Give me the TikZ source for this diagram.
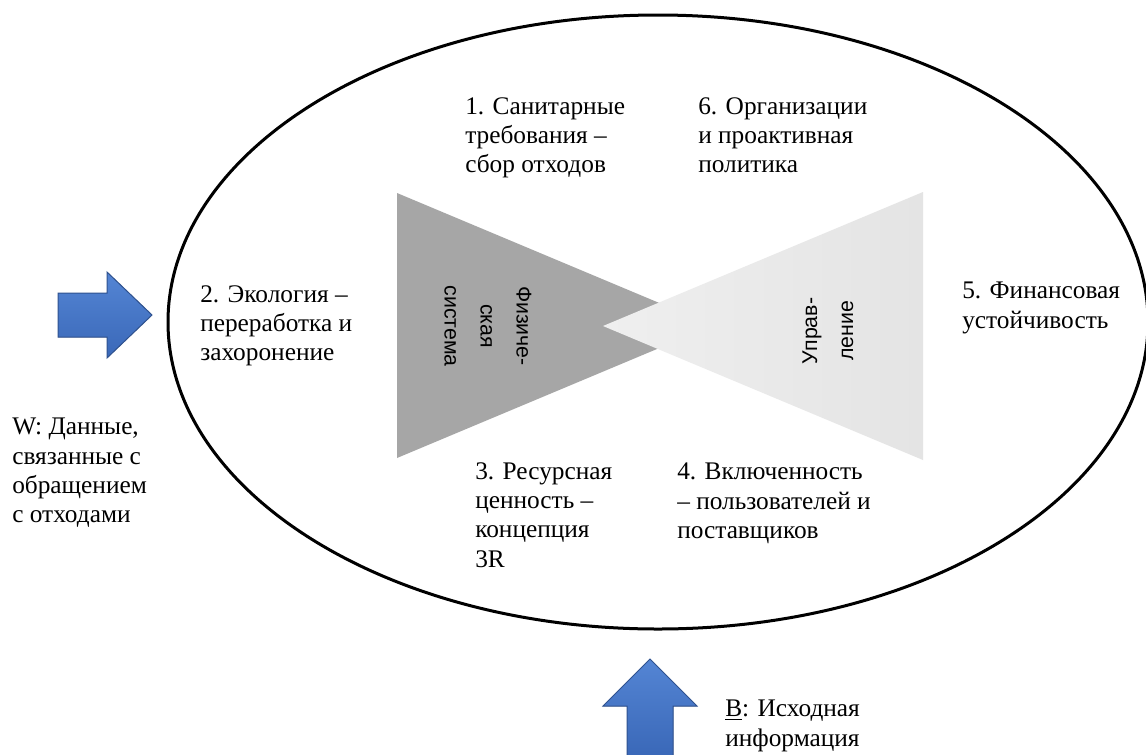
\documentclass[tikz,border=0pt]{standalone}
\usepackage{fontspec}
\setmainfont{Liberation Serif}
\setsansfont{Liberation Sans}
\definecolor{trigdark}{HTML}{A6A6A6}
\definecolor{triglightA}{HTML}{EFEFEF}
\definecolor{triglightB}{HTML}{E4E4E4}
\definecolor{arrowtop}{HTML}{5485D4}
\definecolor{arrowbot}{HTML}{3A68B8}
\definecolor{arrowedge}{HTML}{2F528F}
\begin{document}
\begin{tikzpicture}[x=0.75pt,y=-0.75pt,
  lbl/.style={font=\fontsize{19}{22}\selectfont, align=left, inner sep=0pt, anchor=north west},
  vlbl/.style={font=\sffamily\fontsize{16}{27}\selectfont, align=center, inner sep=0pt},
  bluearrow/.style={top color=arrowtop, bottom color=arrowbot, draw=arrowedge, line width=0.75pt, line join=miter}]
\useasboundingbox (0,0) rectangle (1146,754);
\fill[white] (0,0) rectangle (1146,754);
% triangles
\fill[trigdark] (397,193) -- (713,325.5) -- (397,458) -- cycle;
\shade[left color=triglightA, right color=triglightB] (923,192) -- (603,326) -- (923,460) -- cycle;
% ellipse
\draw[line width=2.25pt] (658,322) ellipse [x radius=367.5pt, y radius=230.25pt];
% triangle texts
\node[vlbl, rotate=-90] (phys) at (488,326) {Физиче-\\ская\\система};
\node[vlbl, rotate=90] (upr) at (828,331) {Управ-\\ление};
% labels
\node[lbl] (n1) at (465,97) {1. Санитарные\\требования –\\сбор отходов};
\node[lbl] (n6) at (698,97) {6. Организации\\и проактивная\\политика};
\node[lbl] (n2) at (200,285) {2. Экология –\\переработка и\\захоронение};
\node[lbl] (n5) at (962,282) {5. Финансовая\\устойчивость};
\node[lbl] (n3) at (475,462) {3. Ресурсная\\ценность –\\концепция\\3R};
\node[lbl] (n4) at (677,463) {4. Включенность\\– пользователей и\\поставщиков};
\node[lbl] (w) at (12,418) {W: Данные,\\связанные с\\обращением\\с отходами};
\node[lbl] (b) at (725,700) {\underline{В}: Исходная\\информация};
% arrows
\filldraw[bluearrow] (58,293) -- (107,293) -- (107,272) -- (152,315) -- (107,358) -- (107,337) -- (58,337) -- cycle;
\filldraw[bluearrow] (627,756) -- (627,706) -- (603,706) -- (650,659) -- (697,706) -- (673,706) -- (673,756) -- cycle;
\end{tikzpicture}
\end{document}
